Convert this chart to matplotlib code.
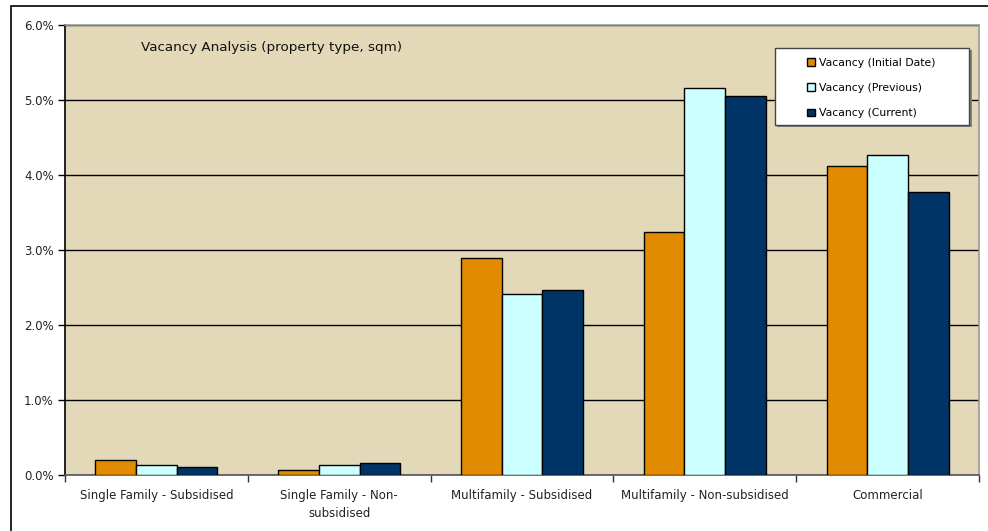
import numpy as np
import matplotlib
matplotlib.use("Agg")
import matplotlib.pyplot as plt
from matplotlib.patches import Rectangle
from matplotlib.ticker import FuncFormatter, FixedLocator

categories = ["Single Family - Subsidised", "Single Family - Non-\nsubsidised",
              "Multifamily - Subsidised", "Multifamily - Non-subsidised", "Commercial"]
initial = [0.196, 0.071, 2.89, 3.24, 4.12]
previous = [0.129, 0.137, 2.41, 5.16, 4.27]
current = [0.110, 0.156, 2.47, 5.05, 3.77]
series_names = ["Vacancy (Initial Date)", "Vacancy (Previous)", "Vacancy (Current)"]
colors = ["#E38B00", "#CCFFFF", "#003366"]

plt.rcParams['font.family'] = ['DejaVu Sans']

fig = plt.figure(figsize=(9.88, 5.31), dpi=100)
fig.patch.set_facecolor("white")

# outer chart frame
fig.add_artist(Rectangle((11 / 988, -0.2), 1.2, 1.2 - 6 / 531, transform=fig.transFigure,
                         fill=False, edgecolor="black", linewidth=1.2))

ax = fig.add_axes([65 / 988, 1 - 475 / 531, (979 - 65) / 988, (475 - 25) / 531])
ax.set_facecolor("#E3D9B9")

x = np.arange(len(categories))
w = 1 / 4.5
for i, (vals, name, c) in enumerate(zip([initial, previous, current], series_names, colors)):
    ax.bar(x + (i - 1) * w, vals, width=w, color=c, edgecolor="black", linewidth=1.0,
           label=name, zorder=3)

ax.set_xlim(-0.5, len(categories) - 0.5)
ax.set_ylim(0, 6)
ax.yaxis.set_major_locator(FixedLocator(np.arange(0, 6.01, 1)))
ax.yaxis.set_major_formatter(FuncFormatter(lambda v, p: f"{v:.1f}%"))
ax.grid(axis="y", color="black", linewidth=1.0, zorder=1)
ax.set_axisbelow(True)

ax.set_xticks(x)
ax.set_xticklabels(categories, fontsize=8.5, color="#222222", linespacing=1.5)
ax.set_xticks(np.arange(-0.5, len(categories)), minor=True)
ax.tick_params(axis="x", which="major", length=0, pad=10)
ax.tick_params(axis="x", which="minor", length=5, width=1, color="#333333")
ax.tick_params(axis="y", length=5, width=1, labelsize=8.5, labelcolor="#222222", pad=3)

for s in ["top", "right"]:
    ax.spines[s].set_color("#999999")
    ax.spines[s].set_linewidth(1.2)
ax.spines["left"].set_color("black")
ax.spines["left"].set_linewidth(1.2)
ax.spines["bottom"].set_color("#555555")
ax.spines["bottom"].set_linewidth(1.2)

ax.text(0.083, 0.95, "Vacancy Analysis (property type, sqm)", transform=ax.transAxes,
        fontsize=9.7, color="#111111", va="center", ha="left")

# legend box: shadow, white frame, then the entries without their own frame
ax.add_patch(Rectangle((0.7795, 0.774), 0.2125, 0.171, transform=ax.transAxes,
                       facecolor="#808080", edgecolor="none", zorder=4))
ax.add_patch(Rectangle((0.777, 0.778), 0.2125, 0.171, transform=ax.transAxes,
                       facecolor="white", edgecolor="#444444", linewidth=1.0, zorder=4))
leg = ax.legend(loc="upper left", bbox_to_anchor=(0.812, 0.927), fontsize=7.8,
                frameon=False, handlelength=0.7, handleheight=0.7,
                handletextpad=0.4, labelspacing=1.4, borderpad=0, borderaxespad=0)
leg.set_zorder(5)

fig.savefig("out.png", dpi=100)
